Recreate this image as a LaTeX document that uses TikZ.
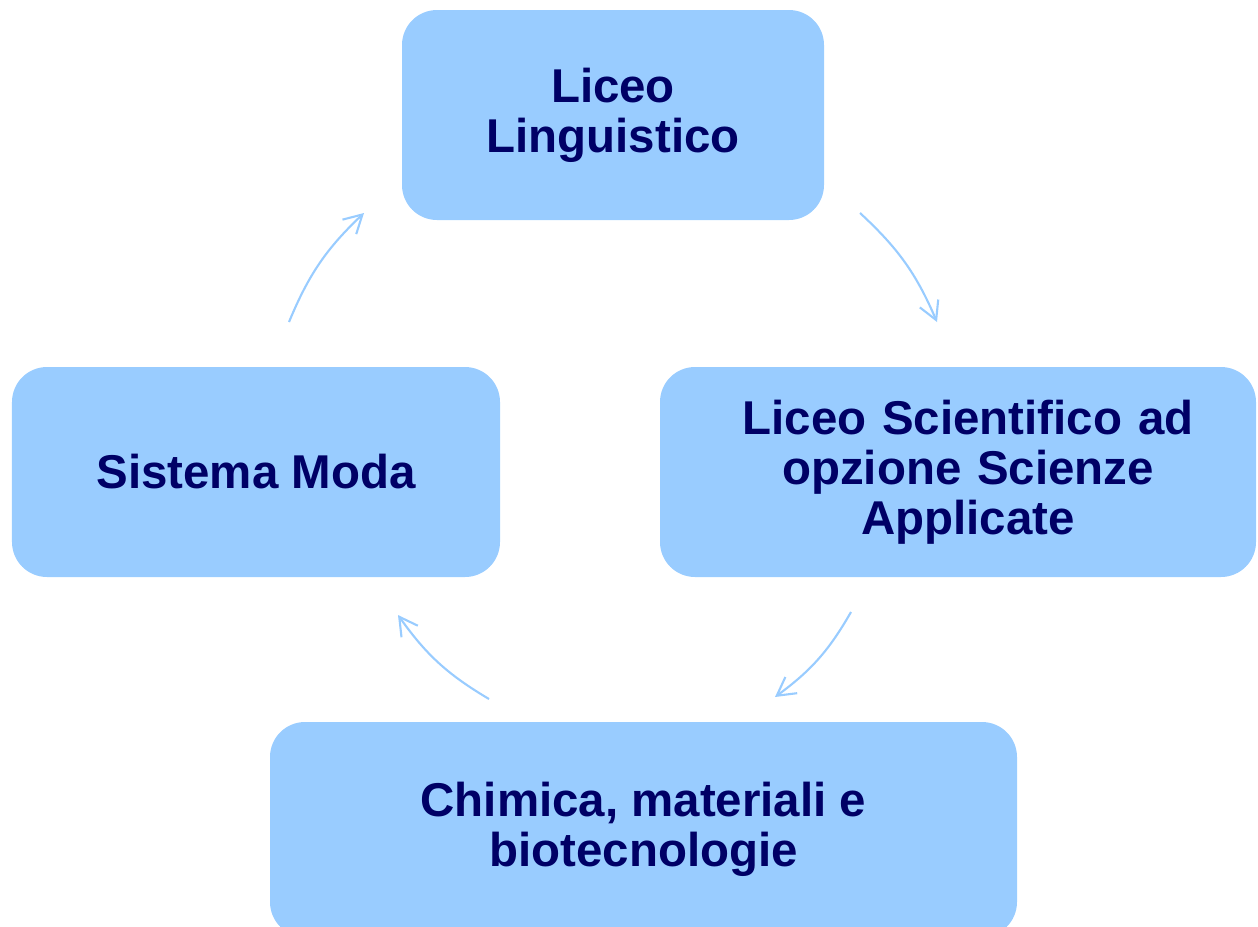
\documentclass[tikz,border=0pt]{standalone}
\usepackage{fontspec}
\setmainfont{Liberation Sans}
\usetikzlibrary{arrows.meta}
\definecolor{boxfill}{RGB}{153,204,255}
\definecolor{boxtext}{RGB}{0,0,102}
\begin{document}
\begin{tikzpicture}[box/.style={fill=boxfill, rounded corners=0.7cm, align=center, text=boxtext, font=\fontsize{27}{28.4}\selectfont\bfseries, minimum height=4.2cm, inner sep=0pt}, cyc/.style={draw=boxfill, line width=1.2pt, -{Straight Barb[length=3.6mm, width=4mm]}, bend left=12}]
	\useasboundingbox (0,0) rectangle (25.16,-18.52);
	\node[box, minimum width=8.44cm] (ling) at (12.26,-2.3) {Liceo\\Linguistico};
	\node[box, minimum width=11.92cm, text width=11.92cm] (scie) at (19.16,-9.44) {\hspace*{0.4cm}Liceo Scientifico ad\\\hspace*{0.4cm}opzione Scienze\\\hspace*{0.4cm}Applicate};
	\node[box, minimum width=14.94cm, minimum height=4.3cm] (chim) at (12.87,-16.59) {Chimica, materiali e\\biotecnologie};
	\node[box, minimum width=9.76cm] (moda) at (5.12,-9.44) {Sistema Moda};
	% free ends of the cycle arrows
	\coordinate (a1) at (17.2,-4.26);  \coordinate (b1) at (18.74,-6.44);
	\coordinate (a2) at (17.02,-12.24); \coordinate (b2) at (15.5,-13.94);
	\coordinate (a3) at (9.78,-13.98);  \coordinate (b3) at (7.96,-12.3);
	\coordinate (a4) at (5.78,-6.44);   \coordinate (b4) at (7.28,-4.26);
	\draw[cyc] (a1) to (b1);
	\draw[cyc] (a2) to (b2);
	\draw[cyc] (a3) to (b3);
	\draw[cyc] (a4) to (b4);
\end{tikzpicture}
\end{document}
